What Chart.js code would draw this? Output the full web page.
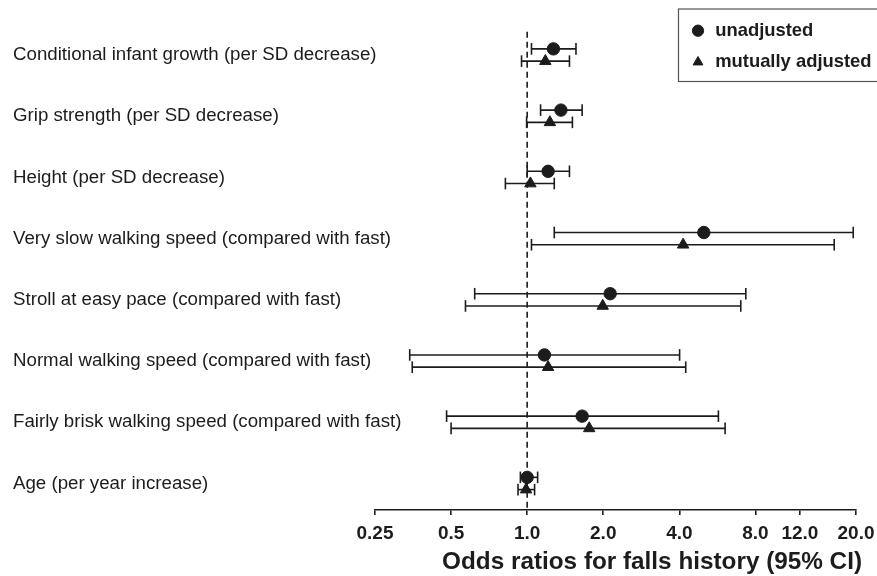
<!DOCTYPE html>
<html>
<head>
<meta charset="utf-8">
<script src="https://cdn.jsdelivr.net/npm/chart.js@4.4.1/dist/chart.umd.min.js"></script>
<style>
  html, body { margin: 0; padding: 0; background: #ffffff; }
  #wrap { width: 877px; height: 576px; position: relative; }
</style>
</head>
<body>
<div id="wrap"><canvas id="c" width="877" height="576"></canvas></div>
<script>
// ---- data ----
const categories = [
  "Conditional infant growth (per SD decrease)",
  "Grip strength (per SD decrease)",
  "Height (per SD decrease)",
  "Very slow walking speed (compared with fast)",
  "Stroll at easy pace (compared with fast)",
  "Normal walking speed (compared with fast)",
  "Fairly brisk walking speed (compared with fast)",
  "Age (per year increase)"
];
const seriesNames = ["unadjusted", "mutually adjusted"];
const unadjOR  = [1.27, 1.36, 1.21, 5.00, 2.13, 1.17, 1.65, 1.00];
const unadjLo  = [1.04, 1.13, 1.00, 1.28, 0.62, 0.343, 0.48, 0.94];
const unadjHi  = [1.56, 1.65, 1.47, 19.5, 7.33, 4.01, 5.71, 1.10];
const adjOR    = [1.18, 1.23, 1.03, 4.14, 1.99, 1.21, 1.76, 0.99];
const adjLo    = [0.95, 0.995, 0.82, 1.04, 0.57, 0.351, 0.50, 0.92];
const adjHi    = [1.47, 1.51, 1.28, 16.4, 7.00, 4.24, 6.07, 1.07];
const xTickValues = [0.25, 0.5, 1, 2, 4, 8, 12, 20];
const xTickLabels = ["0.25", "0.5", "1.0", "2.0", "4.0", "8.0", "12.0", "20.0"];
const referenceOR = 1;
const xTitle = "Odds ratios for falls history (95% CI)";

// ---- styling ----
const FONT = "'Liberation Sans', Arial, Helvetica, sans-serif";
const INK = "#1c1c1c";
const ROW_SHIFT = 0.1;   // vertical offset of the two series within a row
const Y_MIN = -0.572, Y_MAX = 7.433;
const Y_AXIS_WIDTH = 362;

const datasets = [];
datasets.push({
  label: seriesNames[0],
  data: unadjOR.map((v, i) => ({ x: v, y: i - ROW_SHIFT })),
  pointStyle: 'circle', pointRadius: 6.2, pointHoverRadius: 6.2,
  backgroundColor: INK, borderColor: INK, borderWidth: 1, order: 0
});
datasets.push({
  label: seriesNames[1],
  data: adjOR.map((v, i) => ({ x: v, y: i + ROW_SHIFT })),
  pointStyle: 'triangle', pointRadius: 6.6, pointHoverRadius: 6.6,
  backgroundColor: INK, borderColor: INK, borderWidth: 1, order: 0
});
function ciSet(lo, hi, shift) {
  lo.forEach((l, i) => {
    datasets.push({
      label: '',
      data: [{ x: l, y: i + shift }, { x: hi[i], y: i + shift }],
      showLine: true, borderColor: INK, backgroundColor: INK, borderWidth: 1.6,
      pointStyle: 'line', rotation: 90, pointRadius: 5.8, pointHoverRadius: 5.8,
      pointBorderWidth: 1.6, pointBorderColor: INK, order: 1
    });
  });
}
ciSet(unadjLo, unadjHi, -ROW_SHIFT);
ciSet(adjLo, adjHi, ROW_SHIFT);
datasets.push({
  label: '',
  data: [{ x: referenceOR, y: -0.38 }, { x: referenceOR, y: Y_MAX }],
  showLine: true, borderColor: INK, borderWidth: 1.6, borderDash: [6, 4],
  pointRadius: 0, pointHoverRadius: 0, order: 2
});

const legendFrame = {
  id: 'legendFrame',
  afterLayout(chart) {
    const lg = chart.legend;
    if (!lg) return;
    const w = lg.width;
    lg.left = 677; lg.top = 8.5; lg.right = lg.left + w; lg.bottom = lg.top + 200;
  },
  afterDraw(chart) {
    const lg = chart.legend;
    const ctx = chart.ctx;
    ctx.save();
    ctx.strokeStyle = '#555';
    ctx.lineWidth = 1.2;
    ctx.strokeRect(lg.left + 1.5, lg.top + 0.5, 260, 72.5);
    ctx.restore();
  }
};

new Chart(document.getElementById('c'), {
  type: 'scatter',
  data: { datasets },
  plugins: [legendFrame],
  options: {
    responsive: false,
    animation: false,
    events: [],
    layout: { padding: { left: 13, right: 15, top: 20, bottom: 0 } },
    plugins: {
      tooltip: { enabled: false },
      legend: {
        display: true,
        position: 'chartArea',
        align: 'start',
        labels: {
          filter: (item) => item.datasetIndex < 2,
          usePointStyle: true,
          boxWidth: 16, boxHeight: 8,
          padding: 13,
          color: INK,
          font: { family: FONT, size: 18.4, weight: 'bold' }
        }
      },
      title: {
        display: true,
        position: 'bottom',
        align: 'end',
        text: xTitle,
        color: INK,
        padding: { top: 0, bottom: 0 },
        font: { family: FONT, size: 24.3, weight: 'bold', lineHeight: 1.1 }
      }
    },
    scales: {
      x: {
        type: 'logarithmic',
        min: xTickValues[0],
        max: xTickValues[xTickValues.length - 1],
        afterBuildTicks: (s) => { s.ticks = xTickValues.map(v => ({ value: v })); },
        afterFit: (s) => { s.height = 39.3; s.paddingRight = 21; },
        ticks: {
          autoSkip: false, maxRotation: 0, padding: 7.5,
          color: INK,
          font: { family: FONT, size: 19, weight: 'bold' },
          callback: (v, i) => xTickLabels[i]
        },
        grid: { display: true, drawOnChartArea: false, drawTicks: true, tickLength: 5, color: INK, lineWidth: 1.6 },
        border: { display: true, color: INK, width: 1.6 }
      },
      y: {
        type: 'linear',
        reverse: true,
        min: Y_MIN, max: Y_MAX,
        afterBuildTicks: (s) => { s.ticks = categories.map((c, i) => ({ value: i })); },
        afterFit: (s) => { s.width = Y_AXIS_WIDTH; },
        ticks: {
          mirror: true, crossAlign: 'near', padding: -Y_AXIS_WIDTH, autoSkip: false,
          color: INK,
          font: { family: FONT, size: 18.7 },
          callback: (v) => categories[v]
        },
        grid: { display: false },
        border: { display: false }
      }
    }
  }
});
</script>
</body>
</html>
